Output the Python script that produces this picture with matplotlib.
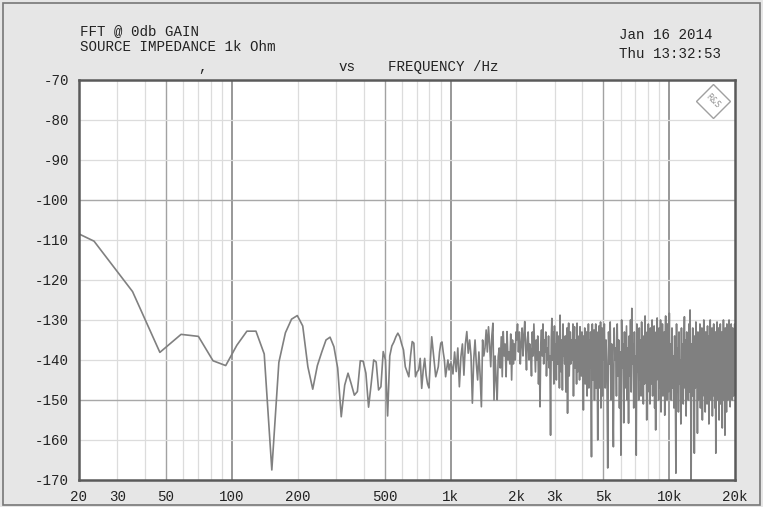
import matplotlib
matplotlib.use('Agg')
import matplotlib.pyplot as plt
import numpy as np
from matplotlib.patches import Rectangle
from matplotlib.ticker import FixedLocator, NullLocator


# ========== data ==========
BIN_HZ = 48000 / 4096  # fft bin spacing

# level (dBV) of the first 85 bins, 11.7 Hz ... 996 Hz
low_bins = [
    -102.4, -110.3, -122.9, -138.1, -133.6, -134.1, -140.2, -141.4, -136.3, -132.8,
    -132.8, -138.5, -167.5, -140.6, -133.2, -129.8, -128.9, -131.5, -141.7, -147.3,
    -141.4, -138.0, -135.0, -134.3, -136.7, -142.0, -154.2, -146.3, -143.3, -146.0,
    -148.8, -147.9, -140.2, -140.3, -143.3, -151.8, -146.0, -140.0, -140.5, -147.5,
    -146.7, -137.9, -140.0, -154.0, -139.0, -136.5, -135.5, -134.2, -133.3, -134.2,
    -136.0, -137.5, -141.7, -143.0, -144.2, -139.0, -135.4, -135.8, -144.2, -143.0,
    -142.5, -139.6, -147.1, -142.5, -139.6, -143.8, -146.0, -147.0, -140.0, -134.2,
    -137.5, -141.0, -144.2, -143.0, -141.7, -138.0, -135.8, -135.5, -138.0, -140.0,
    -144.2, -142.0, -140.0, -142.5, -141.0,
]

# 1k - 2k
seg_a_range = (1008, 1992)
seg_a = [
    -141, -143.5, -138, -142.9, -137, -146.7, -139.2, -136, -143.8, -136,
    -132.9, -138.3, -135, -139, -150.8, -140, -135, -141, -145, -138,
    -144, -151.7, -135, -139, -137, -132.5, -138, -131.7, -136, -141.7,
    -134, -130.8, -150, -139, -145, -150, -139.2, -137, -142, -134.2,
    -144.2, -132.9, -139, -136, -144.2, -132.9, -140, -138, -141, -133.5,
    -145, -135, -141, -136, -140, -133,
]

# 2k - 5k
seg_b_range = (2004, 4992)
seg_b = [
    -135, -131, -138, -133, -141, -136, -132, -139, -134, -130.4,
    -137, -142.5, -135, -133, -140, -136, -138, -144, -133, -139,
    -131, -137, -143, -135, -140, -134, -146, -138, -151.7, -136,
    -132.5, -139, -131, -141, -135, -138, -133, -144, -137, -140,
    -134, -142, -139, -158.8, -135, -129.6, -140, -133, -146, -131.5,
    -139, -136, -145, -133, -141, -137, -134, -147, -128.8, -138,
    -143, -135, -147.5, -131, -139, -136, -141, -134, -148, -137,
    -132, -153.3, -136, -130.8, -144, -138, -133, -141, -135, -140,
    -137, -131, -149, -136, -131.7, -142, -138, -135, -146, -130.8,
    -143, -137, -140, -134, -145, -131.7, -139, -136, -144, -133,
    -141, -137, -152.5, -134, -140, -132, -146, -137, -143, -133,
    -149, -136, -141, -131, -147, -138, -135, -142, -133, -148,
    -164.2, -137, -131, -145, -135, -142, -132.5, -150, -136, -144,
    -131, -147, -138, -133, -145, -160, -134, -141, -131.5, -147,
    -137, -143, -130.5, -152, -136, -144, -132, -149, -135, -140,
]

# 5k - 10k
seg_c_range = (5004, 9996)
seg_c = [
    -138, -131, -147, -135, -143, -167, -133, -141, -130.5, -150,
    -136, -145, -161.7, -132, -140, -137, -149, -131, -144, -135,
    -152, -138, -163.8, -130, -142, -136, -155.7, -133, -147, -139,
    -131.5, -150, -137, -155.8, -134, -144, -130, -148, -127.1, -141,
    -136, -152, -133, -146, -139, -163.8, -131, -143, -137, -150,
    -132, -145, -135, -149, -130.5, -142, -138, -151, -134, -146,
    -129, -140, -136, -155, -133, -148, -131, -144, -137, -151,
    -132, -146, -139, -130, -149, -135, -143, -131.5, -152, -136,
    -157.5, -133, -145, -129.5, -141, -137, -150, -132, -147, -138,
    -130, -153, -135, -144, -131, -149, -137, -142, -133, -153.8,
    -136, -129, -146, -134, -150, -131, -143, -138, -148, -132,
]

# 10k - 20k
seg_d_range = (10008, 19992)
seg_d = [
    -128.3, -145, -136, -150, -132, -147, -139, -152, -134, -144,
    -168.3, -131, -148, -137, -153, -133, -146, -140, -156, -132,
    -149, -136, -151, -138, -129.2, -147, -135, -154, -133, -145,
    -139, -150, -131, -148, -127.5, -143, -170, -136, -149, -132,
    -146, -138, -163.3, -134, -147, -130.5, -144, -137, -158.3, -133,
    -150, -136, -145, -131, -152, -139, -147, -132, -155, -135,
    -143, -130, -149, -137, -153, -133, -146, -139, -151, -131.5,
    -148, -136, -156, -134, -144, -130, -150, -138, -147, -132,
    -154, -136, -145, -131, -149, -137, -152, -133, -163.3, -135,
    -146, -130.5, -150, -138, -144, -132, -155, -136, -148, -131,
    -151, -139, -145, -133, -157, -135, -147, -130, -150, -137,
    -143, -158.8, -132, -148, -136, -153, -131, -146, -139, -150,
    -133, -145, -130, -149, -137, -151.7, -134, -147, -131, -143,
    -138, -150, -132, -146, -135, -149, -133, -144, -131, -141,
]

x_ticks = [20, 30, 50, 100, 200, 500, 1000, 2000, 3000, 5000, 10000, 20000]
x_tick_labels = ['20', '30', '50', '100', '200', '500',
                 '1k', '2k', '3k', '5k', '10k', '20k']
y_ticks = list(range(-170, -60, 10))


# ========== build spectrum ==========
def build_spectrum():
    """Puts the bins and the sections together."""

    freqs = [np.arange(1, len(low_bins) + 1) * BIN_HZ]
    levels = [np.array(low_bins)]
    for f_range, values in ((seg_a_range, seg_a), (seg_b_range, seg_b),
                            (seg_c_range, seg_c), (seg_d_range, seg_d)):
        freqs.append(np.linspace(f_range[0], f_range[1], len(values)))
        levels.append(np.array(values))
    return np.concatenate(freqs), np.concatenate(levels)


# ========== plot ==========
MONO = 'Liberation Mono'
TXT = '#222222'

fig = plt.figure(figsize=(7.63, 5.07), dpi=100)
fig.patch.set_facecolor('#e6e6e6')
fig.patches.append(Rectangle((0.004, 0.004), 0.992, 0.99, transform=fig.transFigure,
                             fill=False, edgecolor='#777777', linewidth=1.2))

ax = fig.add_axes([0.1035, 0.0533, 0.8599, 0.789])
ax.set_facecolor('white')

freq, level = build_spectrum()

# grid by hand: decades dark, 5x medium, rest light
minor = [m * d for d in (10, 100, 1000, 10000) for m in range(2, 10)
         if 20 < m * d < 20000]
for f in minor:
    if f in (50, 500, 5000):
        ax.axvline(f, color='#a2a2a2', linewidth=1.0, zorder=1)
    else:
        ax.axvline(f, color='#dcdcdc', linewidth=0.9, zorder=1)
for f in (100, 1000, 10000):
    ax.axvline(f, color='#7c7c7c', linewidth=1.1, zorder=1)
for y in y_ticks[1:-1]:
    if y in (-100, -150):
        ax.axhline(y, color='#a8a8a8', linewidth=1.0, zorder=1)
    else:
        ax.axhline(y, color='#dcdcdc', linewidth=0.9, zorder=1)

ax.plot(freq, level, color='#808080', linewidth=1.2, zorder=3)

ax.set_xscale('log')
ax.set_xlim(20, 20000)
ax.set_ylim(-170, -70)
ax.xaxis.set_major_locator(FixedLocator(x_ticks))
ax.xaxis.set_minor_locator(NullLocator())
ax.set_xticklabels(x_tick_labels)
ax.set_yticks(y_ticks)
ax.set_yticklabels([str(v) for v in y_ticks])
ax.tick_params(length=0, pad=7, labelsize=10.2, labelcolor=TXT)
for lbl in ax.get_xticklabels() + ax.get_yticklabels():
    lbl.set_family(MONO)
for side in ax.spines.values():
    side.set_color('#5a5a5a')
    side.set_linewidth(1.8)
    side.set_zorder(5)

# R&S logo, top right
ax.plot([0.966], [0.947], marker='D', markersize=17, markerfacecolor='none',
        markeredgecolor='#a0a0a0', markeredgewidth=1.0, transform=ax.transAxes,
        clip_on=False, zorder=4)
ax.text(0.966, 0.947, 'R&S', transform=ax.transAxes, fontsize=5.5,
        color='#909090', rotation=-45, ha='center', va='center', zorder=4)

# header texts
fig.text(80 / 763, 1 - 31 / 507, 'FFT @ 0db GAIN', family=MONO, fontsize=10.2,
         color=TXT, va='center')
fig.text(80 / 763, 1 - 47 / 507, 'SOURCE IMPEDANCE 1k Ohm', family=MONO,
         fontsize=10.2, color=TXT, va='center')
fig.text(198 / 763, 1 - 67 / 507, ',', family=MONO, fontsize=10.2, color=TXT,
         va='center')
fig.text(339 / 763, 1 - 67 / 507, 'vs', family=MONO, fontsize=10.2, color=TXT,
         va='center')
fig.text(388 / 763, 1 - 67 / 507, 'FREQUENCY /Hz', family=MONO, fontsize=10.2,
         color=TXT, va='center')
fig.text(619 / 763, 1 - 35 / 507, 'Jan 16 2014', family=MONO, fontsize=10.2,
         color=TXT, va='center')
fig.text(619 / 763, 1 - 54 / 507, 'Thu 13:32:53', family=MONO, fontsize=10.2,
         color=TXT, va='center')

fig.savefig('out.png', dpi=100, facecolor=fig.get_facecolor())
